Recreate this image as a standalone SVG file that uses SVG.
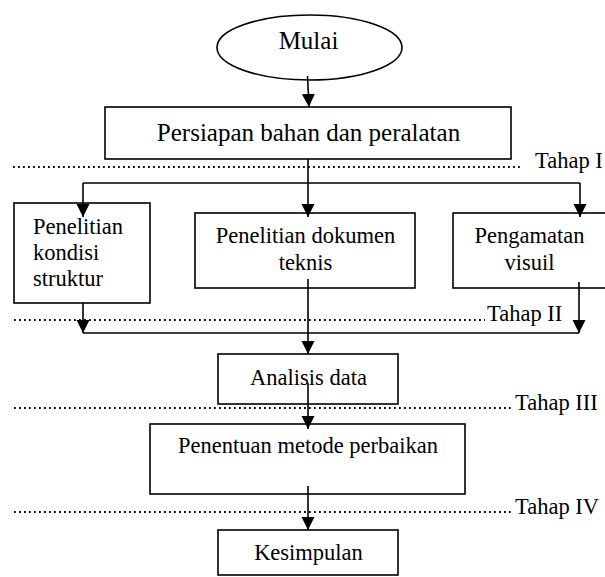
<svg xmlns="http://www.w3.org/2000/svg" width="605" height="577" viewBox="0 0 605 577">
<style>
.n{fill:#fff;stroke:#000;stroke-width:1.6}
text{font-family:'Liberation Serif',Tinos,'Times New Roman','DejaVu Serif',serif;font-size:22.5px;fill:#000}
text.big{font-size:25px}
.c{stroke:#000;stroke-width:1.6;fill:none}
.d{stroke:#000;stroke-width:2;stroke-dasharray:1.8 3.2;fill:none}
</style>
<defs>
<marker id="ah" markerUnits="userSpaceOnUse" markerWidth="14" markerHeight="14" refX="13" refY="6.5" orient="auto">
<path d="M0,0 L13,6.5 L0,13 Z" fill="#000"/>
</marker>
</defs>
<rect width="605" height="577" fill="#fff"/>
<g id="dotted">
<line class="d" x1="13" y1="167" x2="523" y2="167"/>
<line class="d" x1="14" y1="320" x2="485" y2="320"/>
<line class="d" x1="14" y1="408" x2="513" y2="408"/>
<line class="d" x1="14" y1="512" x2="513" y2="512"/>
<text x="535" y="168">Tahap I</text>
<text x="487" y="321">Tahap II</text>
<text x="515" y="410">Tahap III</text>
<text x="515" y="514">Tahap IV</text>
</g>
<g id="mulai">
<ellipse class="n" cx="309.5" cy="47.5" rx="92.5" ry="32.5"/>
<text class="big" x="308.5" y="49" text-anchor="middle">Mulai</text>
</g>
<g id="persiapan">
<rect class="n" x="105" y="107" width="406" height="52"/>
<text class="big" x="308.5" y="141" text-anchor="middle">Persiapan bahan dan peralatan</text>
</g>
<g id="kondisi">
<rect class="n" x="14" y="203" width="136" height="100"/>
<text x="33" y="234">Penelitian</text>
<text x="33" y="260">kondisi</text>
<text x="33" y="286">struktur</text>
</g>
<g id="dokumen">
<rect class="n" x="195" y="213" width="220" height="75"/>
<text x="305.5" y="243" text-anchor="middle">Penelitian dokumen</text>
<text x="305.5" y="270" text-anchor="middle">teknis</text>
</g>
<g id="visuil">
<rect class="n" x="453" y="213" width="156" height="75"/>
<text x="529.5" y="243" text-anchor="middle">Pengamatan</text>
<text x="529.5" y="270" text-anchor="middle">visuil</text>
</g>
<g id="analisis">
<rect class="n" x="218" y="354" width="180" height="50"/>
<text x="308.5" y="385" text-anchor="middle">Analisis data</text>
</g>
<g id="penentuan">
<rect class="n" x="150" y="424" width="315" height="70"/>
<text x="308" y="453" text-anchor="middle">Penentuan metode perbaikan</text>
</g>
<g id="kesimpulan">
<rect class="n" x="218" y="530" width="180" height="45"/>
<text x="308.5" y="560" text-anchor="middle">Kesimpulan</text>
</g>
<g id="connectors">
<line class="c" x1="307.5" y1="76" x2="309" y2="107" marker-end="url(#ah)"/>
<line class="c" x1="308" y1="159" x2="308" y2="183"/>
<line class="c" x1="83" y1="183" x2="580" y2="183"/>
<line class="c" x1="83" y1="183" x2="83" y2="217" marker-end="url(#ah)"/>
<line class="c" x1="308" y1="183" x2="308" y2="217" marker-end="url(#ah)"/>
<line class="c" x1="580" y1="183" x2="580" y2="217" marker-end="url(#ah)"/>
<line class="c" x1="83" y1="303" x2="83" y2="333" marker-end="url(#ah)"/>
<line class="c" x1="579" y1="282" x2="579" y2="333" marker-end="url(#ah)"/>
<line class="c" x1="83" y1="333" x2="579" y2="333"/>
<line class="c" x1="308" y1="279" x2="308" y2="354" marker-end="url(#ah)"/>
<line class="c" x1="308" y1="383" x2="308" y2="429" marker-end="url(#ah)"/>
<line class="c" x1="308" y1="486" x2="308" y2="530" marker-end="url(#ah)"/>
</g>
</svg>
